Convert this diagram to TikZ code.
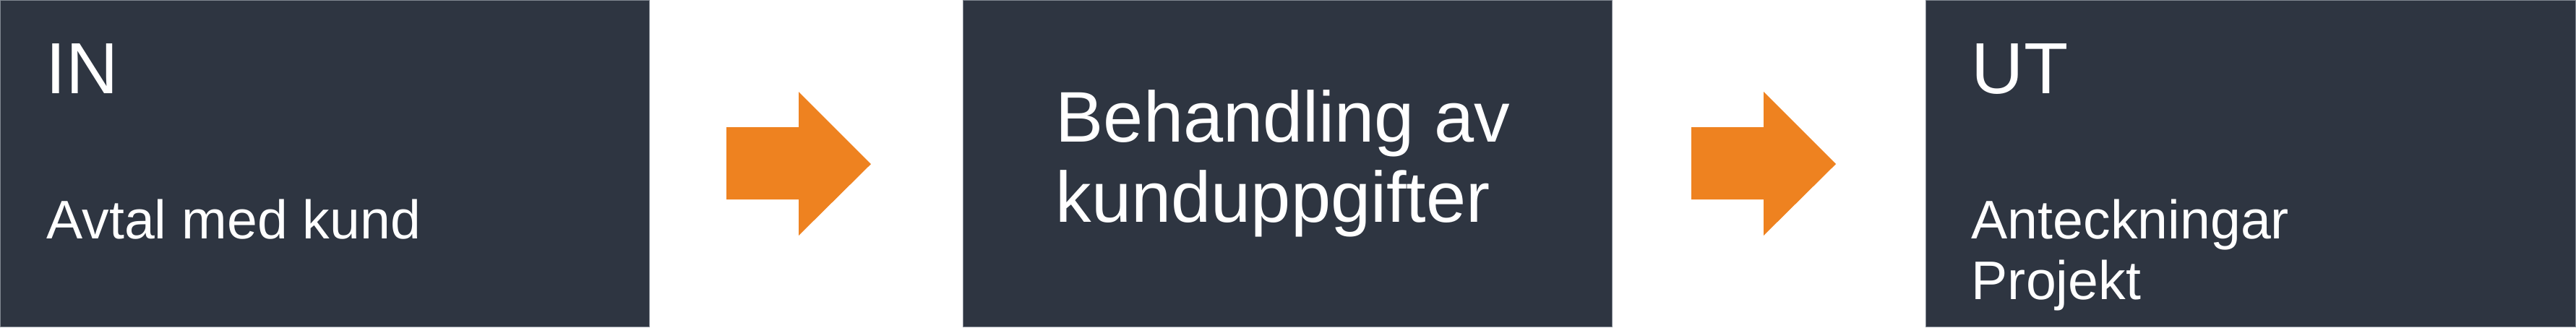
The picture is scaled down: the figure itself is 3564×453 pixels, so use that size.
\documentclass[tikz,border=0pt]{standalone}
\usepackage{fontspec}
\setmainfont{Liberation Sans}
\definecolor{boxfill}{RGB}{46,53,65}
\definecolor{boxline}{RGB}{130,136,146}
\definecolor{arrowor}{RGB}{238,130,32}
\begin{document}
\begin{tikzpicture}[x=0.01cm,y=-0.01cm,
  block/.style={draw=boxline,line width=0.3pt,fill=boxfill,rectangle,inner sep=0pt,
    minimum width=8.98cm,minimum height=4.51cm},
  bigtxt/.style={text=white,inner sep=0pt,anchor=base west,font=\fontsize{28.5}{32}\selectfont},
  midtxt/.style={text=white,inner sep=0pt,anchor=base west,font=\fontsize{28.2}{32}\selectfont},
  smalltxt/.style={text=white,inner sep=0pt,anchor=base west,font=\fontsize{21.4}{24}\selectfont},
  flow/.style={fill=arrowor,draw=none}]
\useasboundingbox (0,0) rectangle (3564,453);
\node[block] (b1) at (449.5,226.5) {};
\node[block] (b2) at (1781.5,226.5) {};
\node[block] (b3) at (3114,226.5) {};
\node[bigtxt] (in) at (63,129) {IN};
\node[smalltxt] (in1) at (64,330) {Avtal med kund};
\node[midtxt] (m1) at (1460,196) {Behandling av};
\node[midtxt] (m2) at (1460,307) {kunduppgifter};
\node[bigtxt] (ut) at (2727,129) {UT};
\node[smalltxt] (ut1) at (2727,330) {Anteckningar};
\node[smalltxt] (ut2) at (2727,414) {Projekt};
\fill[flow] (1005,176) -- (1105,176) -- (1105,127) -- (1205,227) -- (1105,326) -- (1105,276) -- (1005,276) -- cycle;
\fill[flow] (2340,176) -- (2440,176) -- (2440,127) -- (2540,227) -- (2440,326) -- (2440,276) -- (2340,276) -- cycle;
\end{tikzpicture}
\end{document}
